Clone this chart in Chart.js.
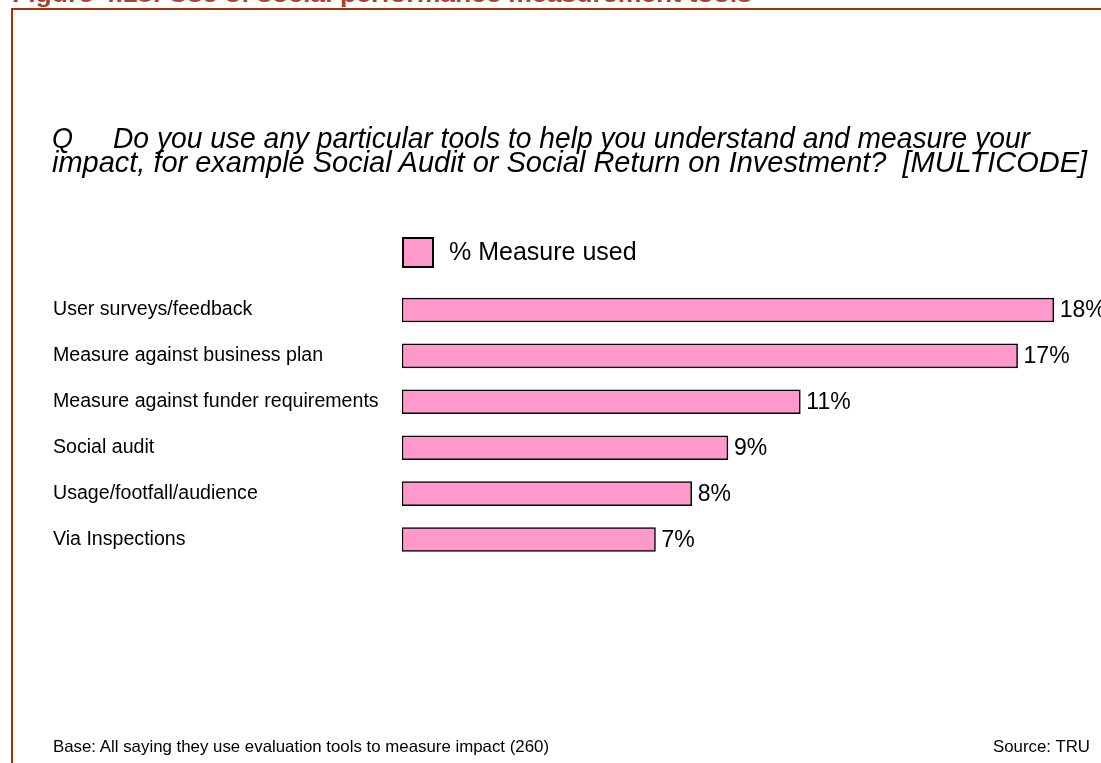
<!DOCTYPE html>
<html>
<head>
<meta charset="utf-8">
<title>Use of social performance measurement tools</title>
<script src="https://cdn.jsdelivr.net/npm/chart.js@4.4.1/dist/chart.umd.min.js"></script>
<style>
  html, body { margin: 0; padding: 0; background: #fff; width: 1101px; height: 763px; overflow: hidden; }
  #chart { position: absolute; left: 0; top: 0; }
  .rule { position: absolute; background: #a33200; }
  .txt { position: absolute; white-space: pre; line-height: 1; font-family: "Liberation Sans", Arial, sans-serif;
         color: #000; transform-origin: 0 0; }
  #figTitle { font-weight: bold; font-size: 22px; color: #a8432f; left: 12px; top: -15.8px; }
  .q { font-style: italic; font-size: 30px; }
  .foot { font-size: 16.5px; }
</style>
</head>
<body>
<canvas id="chart" width="1101" height="763"></canvas>

<div class="rule" style="left:11px;top:8px;width:1090px;height:2px;"></div>
<div class="rule" style="left:11px;top:8px;width:2px;height:755px;"></div>

<div class="txt" id="figTitle" data-w="740">Figure 4.18: Use of social performance measurement tools</div>

<div class="txt q" style="left:52px;top:122.6px;" data-w="21">Q</div>
<div class="txt q" style="left:113px;top:122.6px;" data-w="917">Do you use any particular tools to help you understand and measure your</div>
<div class="txt q" style="left:52px;top:146.6px;" data-w="1035">impact, for example Social Audit or Social Return on Investment?  [MULTICODE]</div>

<div class="txt foot" style="left:53px;top:738.2px;" data-w="496">Base: All saying they use evaluation tools to measure impact (260)</div>
<div class="txt foot" style="left:993px;top:738.2px;" data-w="97">Source: TRU</div>

<script>
// Survey answers: share of organisations using each measurement approach
const categories = [
  'User surveys/feedback',
  'Measure against business plan',
  'Measure against funder requirements',
  'Social audit',
  'Usage/footfall/audience',
  'Via Inspections'
];
const measureUsed = [18, 17, 11, 9, 8, 7];
const seriesLabel = '% Measure used';

// Squeeze narrow-set text lines to their set widths
document.querySelectorAll('[data-w]').forEach(el => {
  const w = parseFloat(el.dataset.w);
  const actual = el.getBoundingClientRect().width;
  if (actual > 0) el.style.transform = 'scaleX(' + (w / actual) + ')';
});

const FONT = '"Liberation Sans", Arial, sans-serif';

// Legend swatch and caption above the bars
const legendSwatch = {
  id: 'legendSwatch',
  afterDraw(chart) {
    const ds = chart.data.datasets[0];
    const ctx = chart.ctx;
    const x = chart.chartArea.left, y = 237, w = 32, h = 31;
    ctx.save();
    ctx.fillStyle = ds.backgroundColor;
    ctx.fillRect(x, y, w, h);
    ctx.lineWidth = 2;
    ctx.strokeStyle = ds.borderColor;
    ctx.strokeRect(x + 1, y + 1, w - 2, h - 2);
    ctx.fillStyle = '#000';
    ctx.font = '25px ' + FONT;
    ctx.textBaseline = 'middle';
    ctx.textAlign = 'left';
    ctx.fillText(ds.label, x + w + 15, y + h / 2 + 1);
    ctx.restore();
  }
};

// Percentage figures at the end of each bar
const valueLabels = {
  id: 'valueLabels',
  afterDatasetsDraw(chart) {
    const ctx = chart.ctx;
    const meta = chart.getDatasetMeta(0);
    const values = chart.data.datasets[0].data;
    ctx.save();
    ctx.fillStyle = '#000';
    ctx.font = '23px ' + FONT;
    ctx.textBaseline = 'middle';
    ctx.textAlign = 'left';
    meta.data.forEach((bar, i) => {
      ctx.fillText(values[i] + '%', bar.x + 6, bar.y + 1);
    });
    ctx.restore();
  }
};

new Chart(document.getElementById('chart'), {
  type: 'bar',
  data: {
    labels: categories,
    datasets: [{
      label: seriesLabel,
      data: measureUsed,
      backgroundColor: '#ff99cc',
      borderColor: '#000',
      borderWidth: 1.5,
      borderSkipped: false,
      barThickness: 24
    }]
  },
  options: {
    indexAxis: 'y',
    responsive: false,
    devicePixelRatio: 1,
    animation: false,
    layout: { padding: { left: 53, top: 287, right: 11, bottom: 200.5 } },
    plugins: {
      legend: { display: false },
      tooltip: { enabled: false },
      title: { display: false }
    },
    scales: {
      x: {
        display: false,
        min: 0,
        max: 19
      },
      y: {
        grid: { display: false, drawTicks: false },
        border: { display: false },
        ticks: {
          crossAlign: 'far',
          padding: 0,
          color: '#000',
          font: { family: FONT, size: 19.6 }
        },
        afterFit(scale) { scale.width = 349; }
      }
    }
  },
  plugins: [legendSwatch, valueLabels]
});
</script>
</body>
</html>
